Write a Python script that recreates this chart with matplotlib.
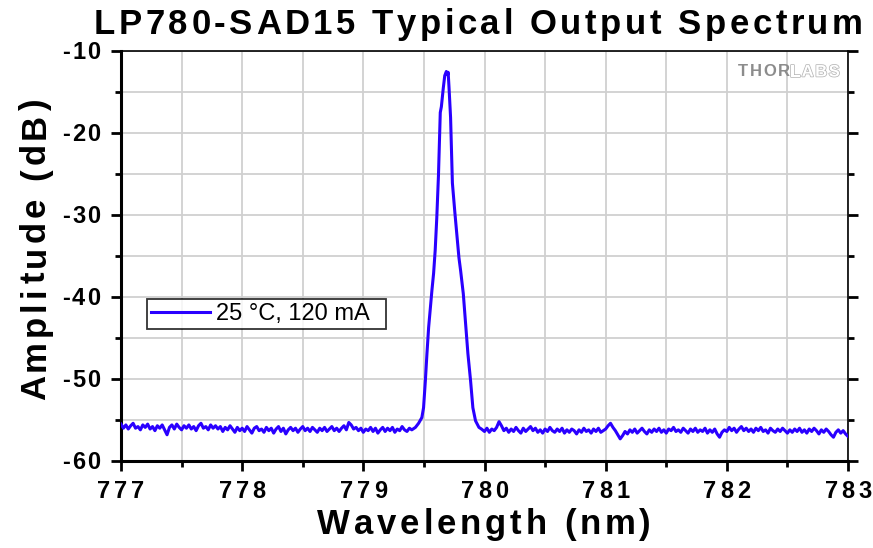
import numpy as np
import matplotlib
matplotlib.use("Agg")
import matplotlib.pyplot as plt
from matplotlib.ticker import MultipleLocator
import matplotlib.patheffects as pe
from matplotlib import font_manager
from matplotlib.ft2font import FT2Font

FAMILY = 'Liberation Sans'
plt.rcParams['font.family'] = [FAMILY, 'DejaVu Sans']
plt.rcParams['axes.unicode_minus'] = False

# ---------------- data ----------------
left_start, left_step = 777.0, 0.02
left_noise = [
    -55.5, -56.0, -55.6, -56.1, -55.7, -55.4, -56.0, -55.8, -56.2, -55.6,
    -55.9, -55.5, -56.1, -55.8, -56.3, -55.7, -56.0, -55.6, -56.2, -56.8,
    -55.9, -55.6, -56.1, -55.5, -55.9, -56.2, -55.7, -56.0, -55.6, -56.1,
    -55.8, -56.3, -55.7, -55.4, -56.0, -55.8, -56.2, -55.6, -56.0, -55.7,
    -56.1, -55.8, -56.4, -55.9, -56.2, -55.7, -56.1, -56.5, -55.9, -56.3,
    -56.0, -56.4, -55.8, -56.2, -56.6, -56.0, -55.8, -56.3, -56.1, -56.5,
    -55.9, -56.3, -56.0, -56.6, -56.1, -55.8, -56.4, -56.0, -56.7, -56.2,
    -55.9, -56.3, -56.0, -56.5, -56.1, -55.8, -56.3, -56.0, -56.4, -55.9,
    -56.2, -56.5, -56.0, -56.3, -55.9, -56.4, -56.1, -55.8, -56.3, -56.0,
    -56.4, -56.0, -55.7, -56.2, -55.3, -55.6, -56.1, -55.9, -56.3, -56.0,
    -56.5, -56.1, -56.3, -55.9, -56.4, -56.0, -56.6, -56.2, -55.9, -56.4,
    -56.0, -56.3, -55.9, -56.5, -56.1, -56.3, -55.8, -56.2, -56.4, -56.0,
    -56.2,
]

peak_wl = [779.430, 779.456, 779.483, 779.497, 779.512, 779.525, 779.539,
           779.553, 779.566, 779.580, 779.593, 779.606, 779.620, 779.635,
           779.644, 779.660, 779.672, 779.685, 779.695, 779.700, 779.707,
           779.720, 779.735, 779.756, 779.776, 779.789, 779.803, 779.825,
           779.844, 779.863, 779.885, 779.904, 779.926, 779.954, 779.975]
peak_db = [-55.9, -55.4, -54.7, -53.5, -50.2, -46.9, -43.7,
           -41.3, -39.2, -37.1, -34.3, -30.4, -25.2, -17.5,
           -16.8, -14.5, -13.0, -12.5, -12.9, -12.6, -14.4,
           -18.1, -26.1, -29.8, -33.1, -35.2, -36.8, -39.6,
           -43.2, -46.9, -50.2, -53.5, -55.1, -55.9, -56.1]

right_start, right_step = 780.0, 0.02
right_noise = [
    -56.4, -56.0, -56.5, -56.1, -56.3, -55.9, -55.2, -55.7, -56.3, -56.0,
    -56.5, -56.1, -56.4, -55.9, -56.3, -56.6, -56.0, -56.4, -56.1, -55.8,
    -56.3, -56.0, -56.5, -56.2, -56.6, -56.1, -56.4, -55.9, -56.3, -56.5,
    -56.1, -56.4, -56.0, -56.6, -56.2, -56.5, -56.1, -56.3, -56.7, -56.2,
    -56.5, -56.0, -56.4, -56.2, -56.6, -56.1, -56.4, -56.0, -56.5, -56.3,
    -56.1, -55.7, -55.4, -55.9, -56.3, -56.8, -57.3, -56.9, -56.4, -56.7,
    -56.2, -56.5, -56.1, -56.6, -56.3, -56.0, -56.4, -56.7, -56.2, -56.5,
    -56.1, -56.4, -56.0, -56.5, -56.2, -56.6, -56.1, -56.3, -55.9, -56.4,
    -56.2, -56.5, -56.0, -56.3, -56.6, -56.1, -56.4, -56.0, -56.5, -56.2,
    -56.4, -56.0, -56.6, -56.2, -56.5, -56.1, -56.7, -57.1, -56.5, -56.2,
    -56.4, -55.9, -56.3, -56.0, -56.5, -56.1, -55.8, -56.3, -56.0, -56.4,
    -56.1, -56.5, -56.0, -56.3, -55.9, -56.4, -56.2, -56.6, -56.0, -56.3,
    -56.5, -56.1, -56.4, -56.0, -56.3, -56.6, -56.2, -56.5, -56.1, -56.4,
    -56.0, -56.5, -56.2, -56.6, -56.1, -56.4, -56.0, -56.3, -56.7, -56.2,
    -56.5, -56.1, -56.4, -56.8, -57.1, -56.5, -56.2, -56.6, -56.3, -56.7,
    -57.0,
]

x_ticks = [777, 778, 779, 780, 781, 782, 783]
y_ticks = [-60, -50, -40, -30, -20, -10]
series_label = "25 °C, 120 mA"
title = "LP780-SAD15 Typical Output Spectrum"
x_label = "Wavelength (nm)"
y_label = "Amplitude (dB)"

left_wl = left_start + left_step * np.arange(len(left_noise))
right_wl = right_start + right_step * np.arange(len(right_noise))
wl = np.concatenate([left_wl, peak_wl, right_wl])
amp = np.concatenate([left_noise, peak_db, right_noise])

# ---------------- figure ----------------
W, H = 873, 548
fig = plt.figure(figsize=(W / 100, H / 100), dpi=100)
ax = fig.add_axes([121 / W, 1 - 461 / H, 727 / W, 410 / H])


def advances(s, size, weight):
    fp = font_manager.FontProperties(family=FAMILY, weight=weight)
    f = FT2Font(font_manager.findfont(fp))
    f.set_size(size, 100)
    return [f.load_char(ord(c)).linearHoriAdvance / 65536.0 for c in s]


def spaced(x, y, s, size, weight='bold', spacing=None, width=None,
           align='center', rotation=0, color='black', **kw):
    """Draw text with letter spacing; x, y in pixels from the top-left,
    y (or x for rotated text) is the baseline."""
    adv = advances(s, size, weight)
    if spacing is None:
        spacing = (width - sum(adv)) / max(len(s) - 1, 1)
    total = sum(adv) + spacing * (len(s) - 1)
    pos = {'center': -total / 2, 'right': -total, 'left': 0.0}[align]
    for c, a in zip(s, adv):
        if c != ' ':
            if rotation == 0:
                px, py = x + pos, y
            else:
                px, py = x, y - pos
            fig.text(px / W, 1 - py / H, c, fontsize=size, fontweight=weight,
                     color=color, ha='left', va='baseline', rotation=rotation,
                     rotation_mode='anchor', **kw)
        pos += a + spacing


line, = ax.plot(wl, amp, color='#2a00ff', lw=2.2, label=series_label, zorder=3)

ax.set_xlim(777, 783)
ax.set_ylim(-60, -10)
ax.set_xticks(x_ticks)
ax.set_yticks(y_ticks)
ax.xaxis.set_minor_locator(MultipleLocator(0.5))
ax.yaxis.set_minor_locator(MultipleLocator(5))
ax.grid(True, which='both', color='#d0d0d0', lw=1.3, zorder=0)
ax.set_axisbelow(True)

for s in ['left', 'bottom']:
    ax.spines[s].set_linewidth(2.2)
for s in ['top', 'right']:
    ax.spines[s].set_linewidth(1.2)

ax.tick_params(which='major', direction='out', length=7, width=2.0,
               right=True, labelleft=False, labelbottom=False)
ax.tick_params(which='minor', direction='out', length=4, width=2.0, right=True)

# tick labels with letter spacing, positioned through the data transform
for t in x_ticks:
    px = ax.transData.transform((t, -60))[0]
    spaced(px, 497.5, f"{t:d}", 17, 'bold', width=47, align='center')
for t in y_ticks:
    py = H - ax.transData.transform((777, t))[1]
    spaced(100.5, py + 8.3, f"{t:d}", 17, 'bold', width=38.5, align='right')

# axis labels and title
spaced(484, 534, x_label, 25, 'bold', width=334)
spaced(45, 249, y_label, 25, 'bold', width=302, rotation=90)
spaced(478.5, 34, title, 25, 'bold', width=769)

leg = ax.legend(loc='upper left',
                bbox_to_anchor=(26 / 727, (461 - 334) / 410, 239 / 727, 35 / 410),
                mode='expand', fontsize=17, frameon=True, fancybox=False,
                handlelength=2.5, borderpad=0.17, handletextpad=0.25,
                borderaxespad=0)
leg.get_frame().set_edgecolor('black')
leg.get_frame().set_linewidth(1.3)

# logo
spaced(738, 76.5, "THOR", 12, 'bold', spacing=1.5, align='left', color='#8c8c8c')
spaced(790, 76.5, "LABS", 12, 'bold', spacing=1.5, align='left', color='white',
       path_effects=[pe.withStroke(linewidth=1.1, foreground='#b5b5b5')])

fig.savefig("out.png", dpi=100)
